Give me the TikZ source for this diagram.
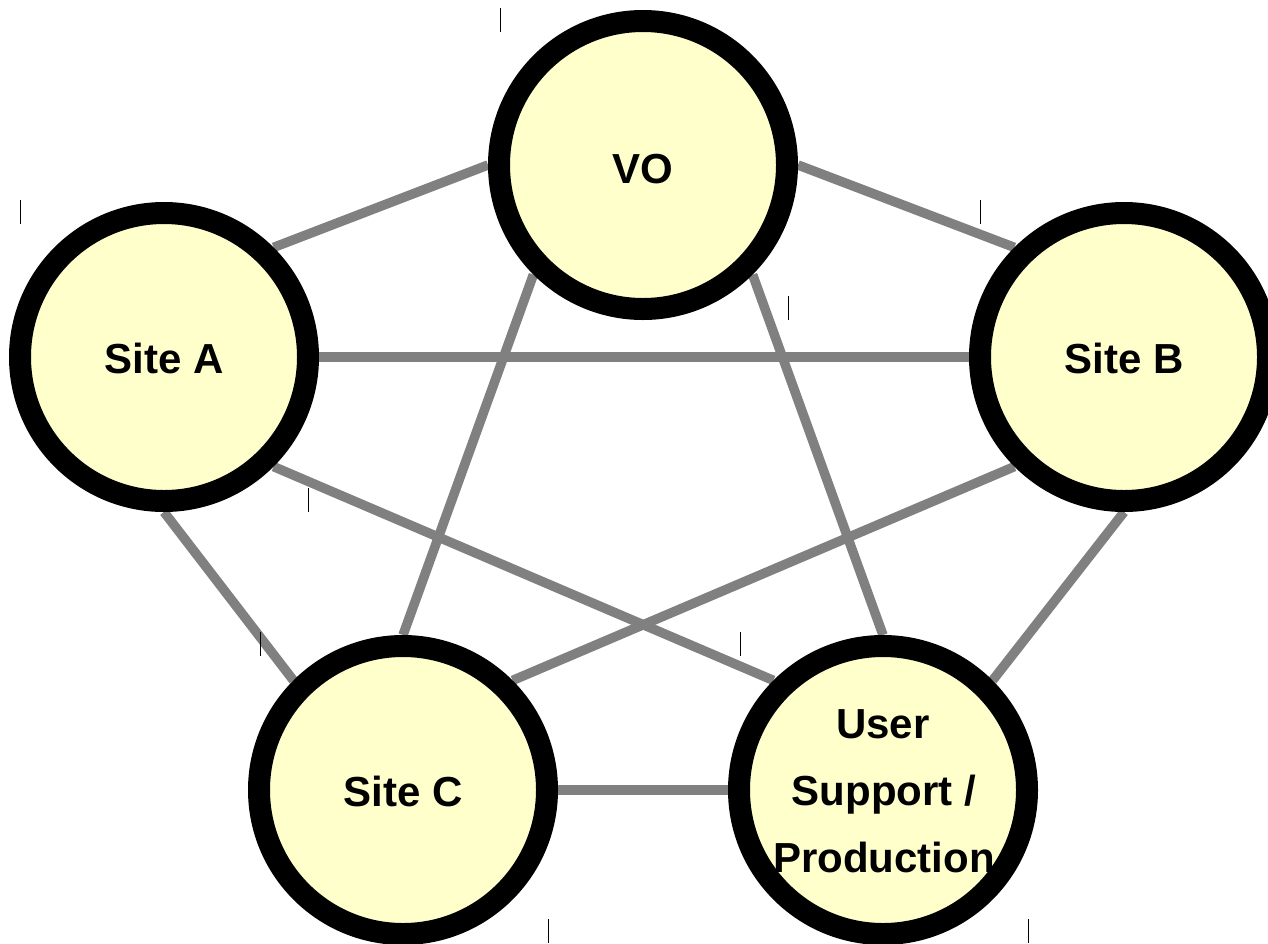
\documentclass[tikz,border=0pt]{standalone}
\usepackage{fontspec}
\setmainfont{Liberation Sans}
\usetikzlibrary{backgrounds}
\definecolor{discfill}{HTML}{FFFFCC}
\definecolor{linkgray}{HTML}{808080}
\begin{document}
\begin{tikzpicture}[x=1pt,y=-1pt,
  disc/.style={circle, draw=black, line width=22pt, fill=discfill,
    minimum size=288pt, inner sep=0pt, outer sep=11pt},
  link/.style={draw=linkgray, line width=9.5pt},
  caption/.style={font=\bfseries\fontsize{42}{66}\selectfont,
    anchor=base, inner sep=0pt, outer sep=0pt},
  tickline/.style={draw=black, line width=1pt}]
\useasboundingbox (0,0) rectangle (1268,943);
\clip (0,0) rectangle (1268,943);

% the five parties
\node[disc] (vo)    at (643,165) {};
\node[disc] (siteA) at (164,357) {};
\node[disc] (siteB) at (1124,357) {};
\node[disc] (siteC) at (403,790) {};
\node[disc] (user)  at (883,790) {};

\node[caption] (voT)    at (643,183) {VO};
\node[caption] (siteAT) at (164,373) {Site A};
\node[caption] (siteBT) at (1124,373) {Site B};
\node[caption] (siteCT) at (403,806) {Site C};
\node[caption] (userT1) at (883,738) {User};
\node[caption] (userT2) at (884,805) {Support /};
\node[caption] (userT3) at (884,872) {Production};

% every party talks to every other one
\begin{pgfonlayer}{background}
  \fill[white] (0,0) rectangle (1268,943);
  \draw[link] (siteA.45)  -- (vo.180);
  \draw[link] (vo.0)      -- (siteB.135);
  \draw[link] (siteA.0)   -- (siteB.180);
  \draw[link] (vo.225)    -- (siteC.90);
  \draw[link] (vo.315)    -- (user.90);
  \draw[link] (siteA.315) -- (user.135);
  \draw[link] (siteB.225) -- (siteC.45);
  \draw[link] (siteA.270) -- (siteC.135);
  \draw[link] (siteB.270) -- (user.45);
  \draw[link] (siteC.0)   -- (user.180);
\end{pgfonlayer}

% small corner marks
\draw[tickline] (500,8)   -- (500,32);
\draw[tickline] (20,200)  -- (20,224);
\draw[tickline] (980,200) -- (980,224);
\draw[tickline] (788,296) -- (788,320);
\draw[tickline] (308,488) -- (308,512);
\draw[tickline] (260,632) -- (260,656);
\draw[tickline] (740,632) -- (740,656);
\draw[tickline] (548,919) -- (548,943);
\draw[tickline] (1028,919) -- (1028,943);
\end{tikzpicture}
\end{document}
